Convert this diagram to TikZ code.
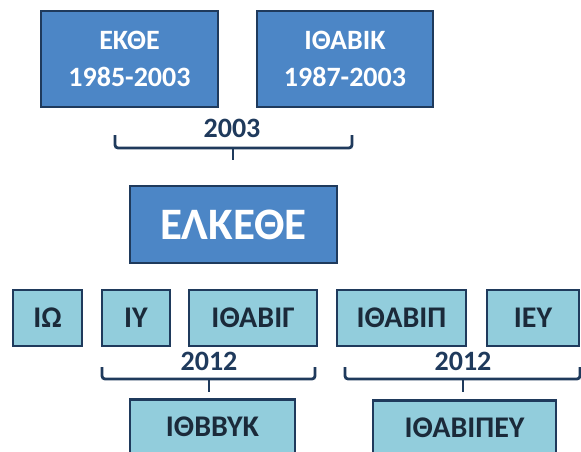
\documentclass[tikz,border=0pt]{standalone}
\usepackage{fontspec}
\setmainfont{Carlito}
\usepackage{xcolor}

\definecolor{topblue}{HTML}{4C86C6}
\definecolor{lightblue}{HTML}{92CDDC}
\definecolor{navy}{HTML}{1F3A5C}
\definecolor{darktext}{HTML}{1B2A3A}

\tikzset{
  topbox/.style={draw=navy, line width=2.5pt, fill=topblue, text=white, inner sep=0pt,
    font=\bfseries\fontsize{28}{37}\selectfont, align=center},
  subbox/.style={draw=navy, line width=2.5pt, fill=lightblue, text=darktext, inner sep=0pt,
    font=\bfseries\fontsize{30}{34}\selectfont, minimum height=56pt},
  bracket/.style={draw=navy, line width=2.8pt, rounded corners=3pt},
  year/.style={text=navy, font=\bfseries\fontsize{28}{34}\selectfont}
}

\begin{document}
\begin{tikzpicture}[x=1pt, y=-1pt]
% picture frame
\useasboundingbox (0,0) rectangle (581,452);
\clip (0,0) rectangle (581,452);

% row heights
\def\rowa{59}
\def\rowb{318}

% old institutes
\node[topbox, minimum width=177pt, minimum height=96pt] (ekthe) at (129.5,\rowa) {ΕΚΘΕ\\1985-2003};
\node[topbox, minimum width=176pt, minimum height=96pt] (ithabik) at (345,\rowa) {ΙΘΑΒΙΚ\\1987-2003};

% merger of 2003
\node[year] (ya) at (232,128) {2003};
\coordinate (mergeL) at (115,135);
\coordinate (mergeR) at (352,135);
\coordinate (mergeTop) at (233,148);
\coordinate (mergeEnd) at (233,160);
\draw[bracket] (mergeL) |- (mergeTop) -| (mergeR);
\draw[bracket] (mergeTop) -- (mergeEnd);

% new centre
\node[topbox, minimum width=207pt, minimum height=77pt, font=\bfseries\fontsize{45}{50}\selectfont] (elkethe) at (233.5,224.5) {ΕΛΚΕΘΕ};

% institutes of the centre
\node[subbox, minimum width=69pt] (io) at (47.5,\rowb) {ΙΩ};
\node[subbox, minimum width=68pt] (iy) at (136,\rowb) {ΙΥ};
\node[subbox, minimum width=128pt] (ithabig) at (253,\rowb) {ΙΘΑΒΙΓ};
\node[subbox, minimum width=129pt] (ithabip) at (401.5,\rowb) {ΙΘΑΒΙΠ};
\node[subbox, minimum width=92pt] (iey) at (533,\rowb) {ΙΕΥ};

% mergers of 2012
\node[year] (yb) at (209,361) {2012};
\coordinate (joinaL) at (102,367);
\coordinate (joinaR) at (315,367);
\coordinate (joinaTop) at (209,379);
\coordinate (joinaEnd) at (209,392);
\draw[bracket] (joinaL) |- (joinaTop) -| (joinaR);
\draw[bracket] (joinaTop) -- (joinaEnd);

\node[year] (yc) at (463,361) {2012};
\coordinate (joinbL) at (345,367);
\coordinate (joinbR) at (580,367);
\coordinate (joinbTop) at (463,379);
\coordinate (joinbEnd) at (463,392);
\draw[bracket] (joinbL) |- (joinbTop) -| (joinbR);
\draw[bracket] (joinbTop) -- (joinbEnd);

% merged institutes (cut by the lower edge)
\node[subbox, anchor=north, minimum width=165pt, minimum height=0pt, text height=37pt, text depth=30pt] (ithbbyk) at (212.5,398) {ΙΘΒΒΥΚ};
\node[subbox, anchor=north, minimum width=183pt, minimum height=0pt, text height=37pt, text depth=30pt] (ithabipey) at (464.5,399) {ΙΘΑΒΙΠΕΥ};

\end{tikzpicture}
\end{document}
